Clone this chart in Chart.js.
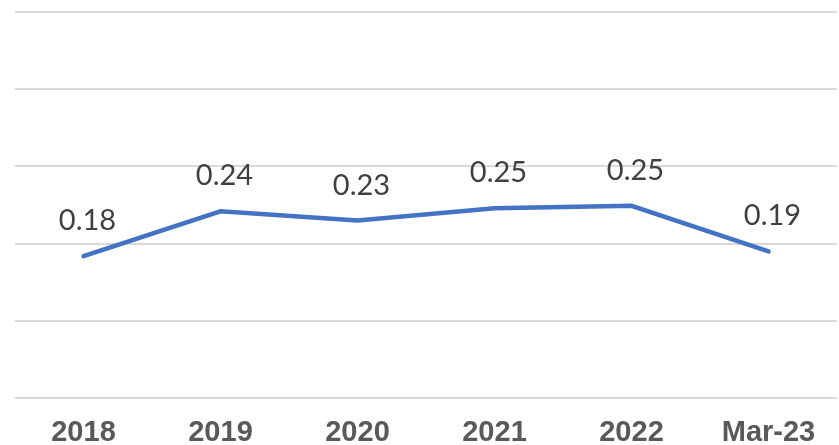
<!DOCTYPE html>
<html>
<head>
<meta charset="utf-8">
<script src="https://cdn.jsdelivr.net/npm/chart.js@4"></script>
<style>
  html, body { margin: 0; padding: 0; background: #fff; }
  #wrap { width: 839px; height: 445px; }
</style>
</head>
<body>
<div id="wrap"><canvas id="lineChart"></canvas></div>
<script>
const categories = ['2018', '2019', '2020', '2021', '2022', 'Mar-23'];
const values = [0.184, 0.242, 0.230, 0.246, 0.249, 0.190];
const valueLabels = ['0.18', '0.24', '0.23', '0.25', '0.25', '0.19'];

// draws the value above each point
const pointLabels = {
    id: 'pointLabels',
    afterDatasetsDraw(chart) {
        const ctx = chart.ctx;
        const meta = chart.getDatasetMeta(0);
        ctx.save();
        ctx.font = '29px Lato, "Open Sans", sans-serif';
        ctx.fillStyle = '#404040';
        ctx.textAlign = 'center';
        ctx.textBaseline = 'alphabetic';
        meta.data.forEach((pt, i) => {
            ctx.fillText(valueLabels[i], pt.x + 4, pt.y - 26);
        });
        ctx.restore();
    }
};

const ctx = document.getElementById('lineChart').getContext('2d');
const chart = new Chart(ctx, {
    type: 'line',
    data: {
        labels: categories,
        datasets: [{
            data: values,
            borderColor: '#4472c4',
            borderWidth: 4.5,
            pointRadius: 0,
            tension: 0,
            borderCapStyle: 'round'
        }]
    },
    options: {
        responsive: true,
        maintainAspectRatio: false,
        animation: false,
        layout: { padding: { top: 12, right: 2, left: 15, bottom: -22 } },
        plugins: { legend: { display: false }, tooltip: { enabled: false } },
        scales: {
            x: {
                offset: true,
                grid: { display: false, drawTicks: false },
                border: { display: false },
                ticks: {
                    color: '#595959',
                    padding: 17,
                    font: { family: '"Liberation Sans", Arial, sans-serif', size: 29, weight: 'bold' }
                }
            },
            y: {
                min: 0,
                max: 0.5,
                ticks: { display: false, stepSize: 0.1 },
                border: { display: false },
                grid: { color: '#d9d9d9', lineWidth: 2, drawTicks: false }
            }
        }
    },
    plugins: [pointLabels]
});
</script>
</body>
</html>
